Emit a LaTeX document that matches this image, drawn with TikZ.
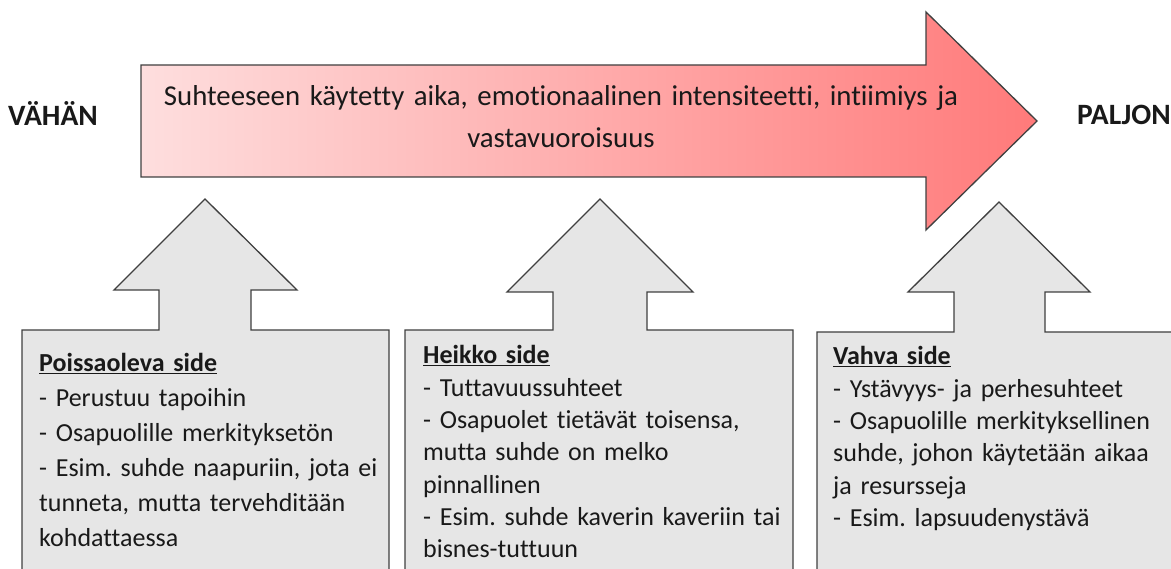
\documentclass[tikz,border=0pt]{standalone}
\usepackage{fontspec}
\setmainfont{Carlito}[Ligatures=CommonOff]
\frenchspacing
\definecolor{edge}{RGB}{64,64,64}
\definecolor{panelfill}{RGB}{230,230,230}
\definecolor{pinklight}{RGB}{254,222,222}
\definecolor{pinkdeep}{RGB}{255,122,122}
\definecolor{ink}{RGB}{25,25,25}
\begin{document}
\begin{tikzpicture}[x=1pt,y=-1pt,
  outline/.style={draw=edge, line width=1.3pt, line join=miter},
  panel/.style={outline, fill=panelfill},
  paneltext/.style={anchor=base west, inner sep=0pt, text width=#1, align=left, text=ink},
  endlabel/.style={anchor=base west, inner sep=0pt, text=ink, font=\fontsize{29.5}{34}\selectfont\bfseries},
  ]
\useasboundingbox (0,0) rectangle (1171,569);
\clip (0,0) rectangle (1171,569);

% main arrow, shaded from light to deep pink
\shade[outline, left color=pinklight, right color=pinkdeep]
  (141,65) -- (926,65) -- (926,12) -- (1037,121) -- (926,230) -- (926,177) -- (141,177) -- cycle;
\node[anchor=base, inner sep=0pt, text width=900pt, align=center, text=ink,
      font=\fontsize{28.8}{42.5}\selectfont] (scale) at (561,105.5)
  {Suhteeseen käytetty aika, emotionaalinen intensiteetti, intiimiys ja\\vastavuoroisuus};

\node[endlabel] (low) at (8,126) {VÄHÄN};
\node[endlabel] (high) at (1077,125) {PALJON};

% three panels, each with an up-pointing arrow on top
\draw[panel] (22,600) -- (22,330) -- (159,330) -- (159,290) -- (114,290) -- (205,199)
  -- (297,290) -- (251,290) -- (251,330) -- (389,330) -- (389,600) -- cycle;
\draw[panel] (405,600) -- (405,330) -- (553,330) -- (553,292) -- (507,292) -- (600,199)
  -- (693,292) -- (647,292) -- (647,330) -- (793,330) -- (793,600) -- cycle;
\draw[panel] (817,600) -- (817,332) -- (954,332) -- (954,292) -- (908,292) -- (999,202)
  -- (1090,292) -- (1045,292) -- (1045,332) -- (1190,332) -- (1190,600) -- cycle;

\node[paneltext=345pt, font=\fontsize{26}{35}\selectfont] (absent) at (39,372)
  {\underline{\textbf{Poissaoleva side}}\\
   - Perustuu tapoihin\\
   - Osapuolille merkityksetön\\
   - Esim. suhde naapuriin, jota ei\\
   tunneta, mutta tervehditään\\
   kohdattaessa};
\node[paneltext=365pt, font=\fontsize{26}{32.3}\selectfont] (weak) at (423,364)
  {\underline{\textbf{Heikko side}}\\
   - Tuttavuussuhteet\\
   - Osapuolet tietävät toisensa,\\
   mutta suhde on melko\\
   pinnallinen\\
   - Esim. suhde kaverin kaveriin tai\\
   bisnes-tuttuun};
\node[paneltext=335pt, font=\fontsize{26}{32.3}\selectfont] (strong) at (833,365)
  {\underline{\textbf{Vahva side}}\\
   - Ystävyys- ja perhesuhteet\\
   - Osapuolille merkityksellinen\\
   suhde, johon käytetään aikaa\\
   ja resursseja\\
   - Esim. lapsuudenystävä};
\end{tikzpicture}
\end{document}
